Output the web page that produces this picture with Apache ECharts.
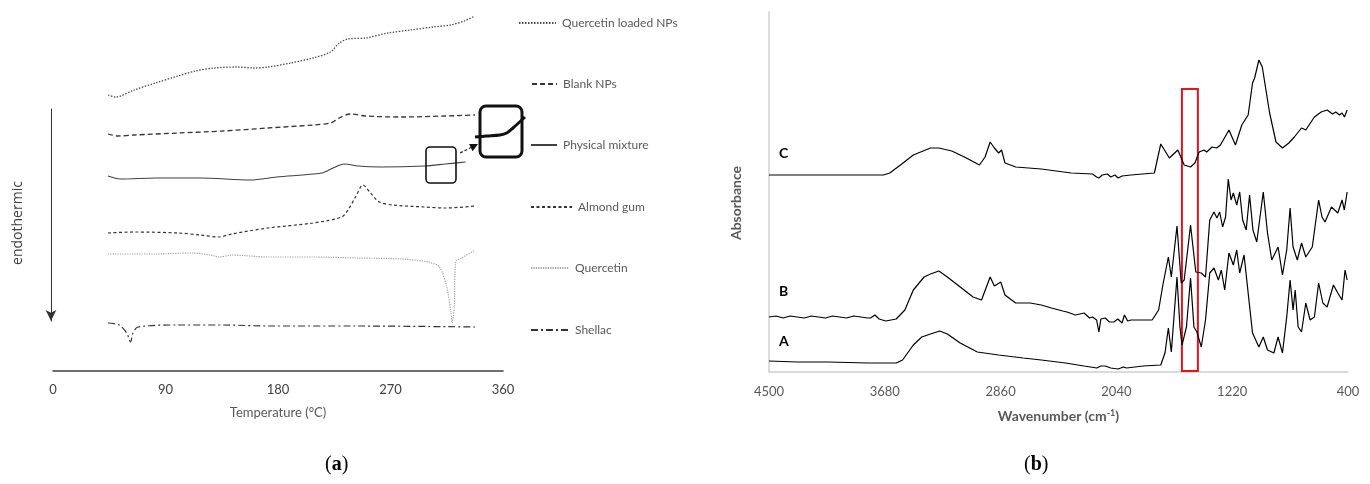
<!DOCTYPE html>
<html>
<head>
<meta charset="utf-8">
<script src="https://cdn.jsdelivr.net/npm/echarts@6/dist/echarts.min.js"></script>
<style>
html,body{margin:0;padding:0;background:#fff;}
#chart{width:1370px;height:484px;}
</style>
</head>
<body>
<div id="chart"></div>
<script>
// ---------- Panel (a): DSC thermograms, [temperature °C, heat flow (arbitrary offset units)] ----------
const tempTicks = [0, 90, 180, 270, 360];
const quercetinLoadedNPs = [[44,276],[50,274],[65,281],[82,288],[100,295],[114,300],[129,303],[147,304],[161,303],[172,304],[190,308],[208,313],[222,319],[229,328],[236,332],[250,333],[268,338],[286,341],[304,344],[318,346],[329,350],[337.6,355]];
const blankNPs = [[44,237],[52,235],[65,236],[100,238],[136,240],[172,243],[208,246],[222,248],[229,253],[238,257],[250,255],[279,254],[314,255],[337.6,256]];
const physicalMixture = [[44,195],[54,192],[82,193],[118,193],[158,191],[179,194],[215,198],[224,203],[233,207],[244,205],[262,204],[297,205],[314,207],[330,209]];
const almondGum = [[44,138],[65,139],[100,138],[118,136],[132,134],[143,137],[172,143],[208,148],[231,154],[236,161],[242,174],[248,186],[254,178],[261,169],[272,166],[297,164],[314,163],[337.6,165]];
const quercetin = [[44,117],[82,117],[111,118],[126,116],[133,114],[143,116],[172,114],[208,114],[243,113],[279,112],[300,109],[309,104],[315,84],[318.4,58],[319.2,48],[321,64],[322,109],[327,113],[337.6,121]];
const shellac = [[44,48],[53,46],[59,38],[62,29],[64,38],[68,44],[100,46],[136,46],[172,45],[243,45],[337.6,44]];
// magnified inset of the physical mixture (annotation)
const insetCurve = [[337.6,234],[347,235],[357.6,236],[363,238],[368,243],[377.6,254]];
const smallBox = [[298.4,224],[322.4,188]];
const bigBox = [[341.6,265],[375.2,214]];
const arrowLine = [[325.6,218],[340,227]];

// ---------- Panel (b): FTIR spectra, [wavenumber cm-1, absorbance (offset units)] ----------
const wavenumberTicks = [4500, 3680, 2860, 2040, 1220, 400];
const specC = [[4500,197],[4200,197],[3900,197],[3690,197],[3645,199],[3569,207],[3478,217],[3357,224],[3297,224],[3206,221],[3116,215],[3010,207],[2970,215],[2934,230],[2904,224],[2874,219],[2853,222],[2829,209],[2753,205],[2572,203],[2360,199],[2209,198],[2180,195],[2164,194],[2140,197],[2104,198],[2080,195],[2050,197],[2028,194],[2000,196],[1937,197],[1771,199],[1726,228],[1665,214],[1605,222],[1560,207],[1515,205],[1484,209],[1454,220],[1420,222],[1400,220],[1363,225],[1330,224],[1303,227],[1243,242],[1197,227],[1152,247],[1107,257],[1076,289],[1061,294],[1031,312],[1007,305],[955,259],[910,230],[864,224],[819,229],[780,235],[729,244],[699,242],[638,255],[590,260],[548,262],[510,258],[487,260],[460,257],[442,259],[425,255],[406,262]];
const specB = [[4500,55],[4450,56],[4400,54],[4350,56],[4300,55],[4250,54],[4200,56],[4150,55],[4100,54],[4050,56],[4000,55],[3950,54],[3900,56],[3850,55],[3800,54],[3781,54],[3750,57],[3720,53],[3674,51],[3599,53],[3538,62],[3478,82],[3402,95],[3357,98],[3297,101],[3237,95],[3146,85],[3055,75],[2995,72],[2934,95],[2904,86],[2859,90],[2829,77],[2753,69],[2650,69],[2572,67],[2500,64],[2420,61],[2390,60],[2330,57],[2269,59],[2230,54],[2209,55],[2180,52],[2164,40],[2150,53],[2119,54],[2090,50],[2058,50],[2030,53],[2000,49],[1983,57],[1960,51],[1937,52],[1850,52],[1787,52],[1741,62],[1711,87],[1672,115],[1651,95],[1611,146],[1581,89],[1560,92],[1515,147],[1478,100],[1439,99],[1409,95],[1379,152],[1349,160],[1328,154],[1309,160],[1288,145],[1267,155],[1248,193],[1228,172],[1212,179],[1188,167],[1167,180],[1146,152],[1121,142],[1097,177],[1073,142],[1046,130],[1000,180],[970,139],[940,112],[895,125],[864,97],[834,122],[810,164],[789,125],[759,112],[729,129],[699,115],[653,125],[608,172],[584,155],[563,150],[517,165],[472,159],[442,172],[426,162],[406,180]];
const specA = [[4500,11],[4300,10],[4082,10],[3800,9],[3599,9],[3554,12],[3478,27],[3418,35],[3357,38],[3291,41],[3237,38],[3146,29],[3025,20],[2874,17],[2700,14],[2572,12],[2400,9],[2269,6],[2179,4],[2150,6],[2119,6],[2080,4],[2028,3],[1990,5],[1968,4],[1850,6],[1726,7],[1696,19],[1672,44],[1651,20],[1611,95],[1590,45],[1575,27],[1544,45],[1515,94],[1491,45],[1470,40],[1439,25],[1409,52],[1379,99],[1349,104],[1318,92],[1297,102],[1273,82],[1243,119],[1212,107],[1188,122],[1167,99],[1136,117],[1107,79],[1076,39],[1031,25],[1000,35],[970,22],[925,19],[895,35],[864,19],[834,55],[810,92],[789,62],[774,82],[753,45],[729,40],[699,69],[668,52],[638,55],[608,89],[578,69],[548,65],[503,87],[472,79],[442,72],[421,102],[406,92]];
const redBand = [1576, 1463];

const FONT = 'Lato';
const grey = '#595959';

function legendAt(name, left, y, w) {
  return {
    data: [name], left: left, top: y - 7, padding: 0, itemWidth: w, itemHeight: 14, itemGap: 0,
    selectedMode: false,
    itemStyle: { color: 'rgba(0,0,0,0)', borderColor: 'rgba(0,0,0,0)', borderWidth: 0 },
    textStyle: { fontFamily: FONT, fontSize: 12, color: grey, padding: [0, 0, 0, 1] }
  };
}

function leftSeries(name, data, color, dash, width) {
  return {
    name: name, type: 'line', xAxisIndex: 0, yAxisIndex: 0, data: data,
    symbol: 'none', smooth: 0.3, silent: true,
    lineStyle: { color: color, width: width || 1.2, type: dash },
    itemStyle: { color: color }
  };
}
function rightSeries(name, data, extra) {
  return Object.assign({
    name: name, type: 'line', xAxisIndex: 1, yAxisIndex: 1, data: data,
    symbol: 'none', silent: true,
    lineStyle: { color: '#000', width: 1.2 }
  }, extra || {});
}

const option = {
  animation: false,
  backgroundColor: '#fff',
  grid: [
    { left: 53, right: 867, top: 10, bottom: 113 },
    { left: 769, right: 22, top: 12, bottom: 112 },
    { left: 51, width: 10, top: 109, bottom: 163 }
  ],
  xAxis: [
    { gridIndex: 0, type: 'value', min: 0, max: 360, interval: 90,
      axisLine: { show: true, lineStyle: { color: '#404040', width: 1.5 } },
      axisTick: { show: false }, splitLine: { show: false },
      axisLabel: { color: '#404040', fontFamily: FONT, fontSize: 13, margin: 12, showMinLabel: true, showMaxLabel: true,
        customValues: tempTicks, formatter: v => String(v) },
      name: 'Temperature (°C)', nameLocation: 'middle', nameGap: 35,
      nameTextStyle: { color: grey, fontFamily: FONT, fontSize: 13 } },
    { gridIndex: 1, type: 'value', min: 400, max: 4500, inverse: true,
      axisLine: { show: true, onZero: false, lineStyle: { color: '#d0d0d0', width: 1.5 } },
      axisTick: { show: false }, splitLine: { show: false },
      axisLabel: { color: grey, fontFamily: FONT, fontSize: 13, margin: 13, customValues: wavenumberTicks,
        formatter: v => String(v) },
      name: 'Wavenumber (cm{sup|-1})', nameLocation: 'middle', nameGap: 37,
      nameTextStyle: { color: grey, fontFamily: FONT, fontSize: 14, fontWeight: 'bold',
        rich: { sup: { fontSize: 9, fontWeight: 'bold', color: grey, fontFamily: FONT, verticalAlign: 'top', padding: [0, 0, 6, 0] } } } },
    { gridIndex: 2, type: 'value', show: false, min: 0, max: 1 }
  ],
  yAxis: [
    { gridIndex: 0, type: 'value', min: 0, max: 361, show: false },
    { gridIndex: 1, type: 'value', min: 0, max: 360,
      axisLine: { show: true, lineStyle: { color: '#d0d0d0', width: 1.5 } },
      axisTick: { show: false }, axisLabel: { show: false }, splitLine: { show: false },
      name: 'Absorbance', nameLocation: 'middle', nameGap: 26, nameRotate: 90,
      nameTextStyle: { color: grey, fontFamily: FONT, fontSize: 14, fontWeight: 'bold', padding: [0, 22, 0, 0] } },
    { gridIndex: 2, type: 'value', min: 0, max: 1,
      axisLine: { show: true, symbol: ['arrow', 'none'], symbolSize: [8, 11], symbolOffset: [0, 0],
        lineStyle: { color: '#333', width: 1 } },
      axisTick: { show: false }, axisLabel: { show: false }, splitLine: { show: false },
      name: 'endothermic', nameLocation: 'middle', nameGap: 26, nameRotate: 90,
      nameTextStyle: { color: '#404040', fontFamily: 'Open Sans', fontSize: 14, padding: [0, 16, 0, 0] } }
  ],
  legend: [
    legendAt('Quercetin loaded NPs', 518, 24, 37),
    legendAt('Blank NPs', 531, 85, 25),
    legendAt('Physical mixture', 530, 146, 26),
    legendAt('Almond gum', 530, 208, 41),
    legendAt('Quercetin', 530, 269, 38),
    legendAt('Shellac', 530, 331, 38)
  ],
  series: [
    leftSeries('Quercetin loaded NPs', quercetinLoadedNPs, '#4d4d4d', [1.5, 1.5], 1.3),
    leftSeries('Blank NPs', blankNPs, '#333', [5, 3], 1.3),
    leftSeries('Physical mixture', physicalMixture, '#404040', 'solid', 1.1),
    leftSeries('Almond gum', almondGum, '#333', [3, 2.5], 1.2),
    leftSeries('Quercetin', quercetin, '#a0a0a0', [1.2, 1.2], 1.2),
    leftSeries('Shellac', shellac, '#333', [7, 3, 2, 3], 1.2),
    rightSeries('C', specC, {
      markArea: { silent: true,
        itemStyle: { color: 'rgba(0,0,0,0)', borderColor: '#e8141c', borderWidth: 2 },
        data: [[{ coord: [redBand[0], 283] }, { coord: [redBand[1], 1] }]] }
    }),
    rightSeries('B', specB),
    rightSeries('A', specA)
  ],
  graphic: [
    { type: 'text', left: 779, top: 146, style: { text: 'C', font: 'bold 14px Lato', fill: '#000' } },
    { type: 'text', left: 779, top: 284, style: { text: 'B', font: 'bold 14px Lato', fill: '#000' } },
    { type: 'text', left: 779, top: 334, style: { text: 'A', font: 'bold 14px Lato', fill: '#000' } },
    { type: 'text', left: 325, top: 455, style: { text: '({b|a})', font: '20px "Liberation Serif"', fill: '#000',
        rich: { b: { font: 'bold 20px "Liberation Serif"', fill: '#000' } } } },
    { type: 'text', left: 1024, top: 455, style: { text: '({b|b})', font: '20px "Liberation Serif"', fill: '#000',
        rich: { b: { font: 'bold 20px "Liberation Serif"', fill: '#000' } } } }
  ]
};

const chart = echarts.init(document.getElementById('chart'), null, { renderer: 'canvas' });
chart.setOption(option);

// annotation boxes of panel (a), placed through the panel's own scales
function px(p) { return chart.convertToPixel({ gridIndex: 0 }, p); }
const sb0 = px(smallBox[0]), sb1 = px(smallBox[1]);
const bb0 = px(bigBox[0]), bb1 = px(bigBox[1]);
const a0 = px(arrowLine[0]), a1 = px(arrowLine[1]);
const ang = Math.atan2(a1[1] - a0[1], a1[0] - a0[0]);
const hl = 8, hw = 4;
const tip = a1;
const base = [tip[0] - hl * Math.cos(ang), tip[1] - hl * Math.sin(ang)];
const head = [tip,
  [base[0] + hw * Math.sin(ang), base[1] - hw * Math.cos(ang)],
  [base[0] - hw * Math.sin(ang), base[1] + hw * Math.cos(ang)]];
const extra = [
  { type: 'polyline', shape: { points: insetCurve.map(px), smooth: 0.3 }, style: { stroke: '#111', lineWidth: 3, fill: null }, z: 10 },
  { type: 'rect', shape: { x: sb0[0], y: sb0[1], width: sb1[0] - sb0[0], height: sb1[1] - sb0[1], r: 4 },
    style: { stroke: '#111', lineWidth: 1.6, fill: null }, z: 10 },
  { type: 'rect', shape: { x: bb0[0], y: bb0[1], width: bb1[0] - bb0[0], height: bb1[1] - bb0[1], r: 6 },
    style: { stroke: '#111', lineWidth: 3, fill: null }, z: 11 },
  { type: 'line', shape: { x1: a0[0], y1: a0[1], x2: base[0], y2: base[1] },
    style: { stroke: '#222', lineWidth: 1.2, lineDash: [3, 2] }, z: 10 },
  { type: 'polygon', shape: { points: head }, style: { fill: '#111' }, z: 10 }
];
chart.setOption({ graphic: option.graphic.concat(extra) });
</script>
</body>
</html>
